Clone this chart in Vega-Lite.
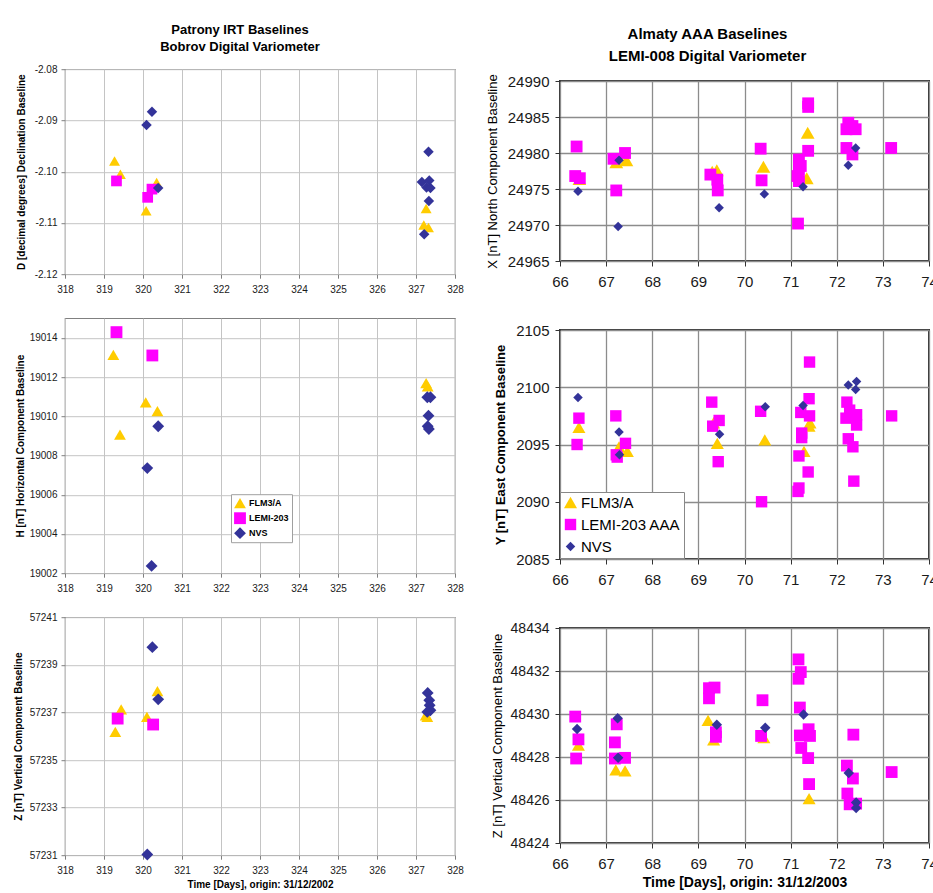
{
  "$schema": "https://vega.github.io/schema/vega-lite/v6.json",
  "background": "white",
  "padding": {"left": 12, "top": 23, "right": 0, "bottom": 0},
  "config": {
    "font": "Liberation Sans",
    "axis": {"domain": false, "labelFlush": false, "labelOverlap": false, "labelFont": "Liberation Sans", "titleFont": "Liberation Sans", "labelColor": "#1a1a1a", "titleColor": "#000000", "grid": true},
    "legend": {"labelFont": "Liberation Sans"},
    "title": {"font": "Liberation Sans", "color": "#000000", "fontWeight": "bold"}
  },
  "datasets": {
    "D": [
      {"day": 319.27, "val": -2.0979, "series": "FLM3/A"},
      {"day": 319.42, "val": -2.1005, "series": "FLM3/A"},
      {"day": 320.08, "val": -2.1076, "series": "FLM3/A"},
      {"day": 320.35, "val": -2.1021, "series": "FLM3/A"},
      {"day": 327.26, "val": -2.1072, "series": "FLM3/A"},
      {"day": 327.2, "val": -2.1104, "series": "FLM3/A"},
      {"day": 327.32, "val": -2.1109, "series": "FLM3/A"},
      {"day": 319.32, "val": -2.1018, "series": "LEMI-203"},
      {"day": 320.12, "val": -2.105, "series": "LEMI-203"},
      {"day": 320.23, "val": -2.1034, "series": "LEMI-203"},
      {"day": 320.09, "val": -2.0909, "series": "NVS"},
      {"day": 320.23, "val": -2.0883, "series": "NVS"},
      {"day": 320.39, "val": -2.1032, "series": "NVS"},
      {"day": 327.32, "val": -2.0961, "series": "NVS"},
      {"day": 327.15, "val": -2.102, "series": "NVS"},
      {"day": 327.34, "val": -2.1017, "series": "NVS"},
      {"day": 327.27, "val": -2.1031, "series": "NVS"},
      {"day": 327.37, "val": -2.1032, "series": "NVS"},
      {"day": 327.33, "val": -2.1057, "series": "NVS"},
      {"day": 327.21, "val": -2.1122, "series": "NVS"}
    ],
    "H": [
      {"day": 319.24, "val": 19013.13, "series": "FLM3/A"},
      {"day": 319.41, "val": 19009.06, "series": "FLM3/A"},
      {"day": 320.07, "val": 19010.71, "series": "FLM3/A"},
      {"day": 320.37, "val": 19010.26, "series": "FLM3/A"},
      {"day": 327.26, "val": 19011.69, "series": "FLM3/A"},
      {"day": 327.3, "val": 19011.53, "series": "FLM3/A"},
      {"day": 319.32, "val": 19014.29, "series": "LEMI-203"},
      {"day": 320.24, "val": 19013.1, "series": "LEMI-203"},
      {"day": 320.11, "val": 19007.36, "series": "NVS"},
      {"day": 320.39, "val": 19009.49, "series": "NVS"},
      {"day": 320.22, "val": 19002.37, "series": "NVS"},
      {"day": 327.29, "val": 19010.97, "series": "NVS"},
      {"day": 327.37, "val": 19010.97, "series": "NVS"},
      {"day": 327.32, "val": 19010.03, "series": "NVS"},
      {"day": 327.3, "val": 19009.49, "series": "NVS"},
      {"day": 327.33, "val": 19009.35, "series": "NVS"}
    ],
    "ZL": [
      {"day": 319.29, "val": 57236.18, "series": "FLM3/A"},
      {"day": 319.44, "val": 57237.13, "series": "FLM3/A"},
      {"day": 320.1, "val": 57236.81, "series": "FLM3/A"},
      {"day": 320.37, "val": 57237.89, "series": "FLM3/A"},
      {"day": 327.29, "val": 57236.81, "series": "FLM3/A"},
      {"day": 327.25, "val": 57236.87, "series": "FLM3/A"},
      {"day": 319.35, "val": 57236.74, "series": "LEMI-203"},
      {"day": 320.26, "val": 57236.49, "series": "LEMI-203"},
      {"day": 320.24, "val": 57239.74, "series": "NVS"},
      {"day": 320.39, "val": 57237.55, "series": "NVS"},
      {"day": 320.11, "val": 57231.03, "series": "NVS"},
      {"day": 327.3, "val": 57237.82, "series": "NVS"},
      {"day": 327.34, "val": 57237.51, "series": "NVS"},
      {"day": 327.35, "val": 57237.3, "series": "NVS"},
      {"day": 327.37, "val": 57237.09, "series": "NVS"},
      {"day": 327.29, "val": 57237.02, "series": "NVS"}
    ],
    "X": [
      {"day": 66.42, "val": 24976.4, "series": "FLM3/A"},
      {"day": 67.22, "val": 24978.7, "series": "FLM3/A"},
      {"day": 67.44, "val": 24979.0, "series": "FLM3/A"},
      {"day": 69.3, "val": 24977.4, "series": "FLM3/A"},
      {"day": 69.4, "val": 24977.6, "series": "FLM3/A"},
      {"day": 70.41, "val": 24978.1, "series": "FLM3/A"},
      {"day": 71.37, "val": 24982.8, "series": "FLM3/A"},
      {"day": 71.35, "val": 24976.5, "series": "FLM3/A"},
      {"day": 66.36, "val": 24980.9, "series": "LEMI-203 AAA"},
      {"day": 66.33, "val": 24976.8, "series": "LEMI-203 AAA"},
      {"day": 66.43, "val": 24976.5, "series": "LEMI-203 AAA"},
      {"day": 67.16, "val": 24979.2, "series": "LEMI-203 AAA"},
      {"day": 67.41, "val": 24980.0, "series": "LEMI-203 AAA"},
      {"day": 67.22, "val": 24974.8, "series": "LEMI-203 AAA"},
      {"day": 69.26, "val": 24977.0, "series": "LEMI-203 AAA"},
      {"day": 69.41, "val": 24976.3, "series": "LEMI-203 AAA"},
      {"day": 69.42, "val": 24974.8, "series": "LEMI-203 AAA"},
      {"day": 70.35, "val": 24980.6, "series": "LEMI-203 AAA"},
      {"day": 70.37, "val": 24976.2, "series": "LEMI-203 AAA"},
      {"day": 71.16, "val": 24970.2, "series": "LEMI-203 AAA"},
      {"day": 71.38, "val": 24986.9, "series": "LEMI-203 AAA"},
      {"day": 71.38, "val": 24986.4, "series": "LEMI-203 AAA"},
      {"day": 71.38, "val": 24980.3, "series": "LEMI-203 AAA"},
      {"day": 71.18, "val": 24979.1, "series": "LEMI-203 AAA"},
      {"day": 71.18, "val": 24977.7, "series": "LEMI-203 AAA"},
      {"day": 71.15, "val": 24976.8, "series": "LEMI-203 AAA"},
      {"day": 71.18, "val": 24976.1, "series": "LEMI-203 AAA"},
      {"day": 71.22, "val": 24978.2, "series": "LEMI-203 AAA"},
      {"day": 72.25, "val": 24984.2, "series": "LEMI-203 AAA"},
      {"day": 72.21, "val": 24983.3, "series": "LEMI-203 AAA"},
      {"day": 72.41, "val": 24983.3, "series": "LEMI-203 AAA"},
      {"day": 72.34, "val": 24983.75, "series": "LEMI-203 AAA"},
      {"day": 72.21, "val": 24980.7, "series": "LEMI-203 AAA"},
      {"day": 72.34, "val": 24979.8, "series": "LEMI-203 AAA"},
      {"day": 73.18, "val": 24980.7, "series": "LEMI-203 AAA"},
      {"day": 66.39, "val": 24974.7, "series": "NVS"},
      {"day": 67.28, "val": 24979.0, "series": "NVS"},
      {"day": 67.26, "val": 24969.8, "series": "NVS"},
      {"day": 69.45, "val": 24972.4, "series": "NVS"},
      {"day": 70.43, "val": 24974.3, "series": "NVS"},
      {"day": 71.27, "val": 24975.3, "series": "NVS"},
      {"day": 72.25, "val": 24978.3, "series": "NVS"},
      {"day": 72.41, "val": 24980.7, "series": "NVS"}
    ],
    "Y": [
      {"day": 66.41, "val": 2096.5, "series": "FLM3/A"},
      {"day": 67.28, "val": 2094.8, "series": "FLM3/A"},
      {"day": 67.46, "val": 2094.4, "series": "FLM3/A"},
      {"day": 69.33, "val": 2096.9, "series": "FLM3/A"},
      {"day": 69.41, "val": 2095.1, "series": "FLM3/A"},
      {"day": 70.44, "val": 2095.4, "series": "FLM3/A"},
      {"day": 71.29, "val": 2094.4, "series": "FLM3/A"},
      {"day": 71.4, "val": 2096.6, "series": "FLM3/A"},
      {"day": 71.42, "val": 2096.9, "series": "FLM3/A"},
      {"day": 66.41, "val": 2097.3, "series": "LEMI-203 AAA"},
      {"day": 66.37, "val": 2095.0, "series": "LEMI-203 AAA"},
      {"day": 67.21, "val": 2097.5, "series": "LEMI-203 AAA"},
      {"day": 67.42, "val": 2095.1, "series": "LEMI-203 AAA"},
      {"day": 67.22, "val": 2094.1, "series": "LEMI-203 AAA"},
      {"day": 67.24, "val": 2093.9, "series": "LEMI-203 AAA"},
      {"day": 69.29, "val": 2098.7, "series": "LEMI-203 AAA"},
      {"day": 69.31, "val": 2096.6, "series": "LEMI-203 AAA"},
      {"day": 69.45, "val": 2097.1, "series": "LEMI-203 AAA"},
      {"day": 69.43, "val": 2093.5, "series": "LEMI-203 AAA"},
      {"day": 70.35, "val": 2097.9, "series": "LEMI-203 AAA"},
      {"day": 70.37, "val": 2090.0, "series": "LEMI-203 AAA"},
      {"day": 71.41, "val": 2102.2, "series": "LEMI-203 AAA"},
      {"day": 71.4, "val": 2099.0, "series": "LEMI-203 AAA"},
      {"day": 71.22, "val": 2097.8, "series": "LEMI-203 AAA"},
      {"day": 71.41, "val": 2097.5, "series": "LEMI-203 AAA"},
      {"day": 71.24, "val": 2096.0, "series": "LEMI-203 AAA"},
      {"day": 71.24, "val": 2095.6, "series": "LEMI-203 AAA"},
      {"day": 71.18, "val": 2094.0, "series": "LEMI-203 AAA"},
      {"day": 71.38, "val": 2092.6, "series": "LEMI-203 AAA"},
      {"day": 71.18, "val": 2091.2, "series": "LEMI-203 AAA"},
      {"day": 71.16, "val": 2090.9, "series": "LEMI-203 AAA"},
      {"day": 72.22, "val": 2098.7, "series": "LEMI-203 AAA"},
      {"day": 72.28, "val": 2098.0, "series": "LEMI-203 AAA"},
      {"day": 72.2, "val": 2097.3, "series": "LEMI-203 AAA"},
      {"day": 72.43, "val": 2097.6, "series": "LEMI-203 AAA"},
      {"day": 72.43, "val": 2096.7, "series": "LEMI-203 AAA"},
      {"day": 72.25, "val": 2095.5, "series": "LEMI-203 AAA"},
      {"day": 72.35, "val": 2094.8, "series": "LEMI-203 AAA"},
      {"day": 72.37, "val": 2091.8, "series": "LEMI-203 AAA"},
      {"day": 73.19, "val": 2097.5, "series": "LEMI-203 AAA"},
      {"day": 66.39, "val": 2099.1, "series": "NVS"},
      {"day": 67.28, "val": 2096.1, "series": "NVS"},
      {"day": 67.29, "val": 2094.1, "series": "NVS"},
      {"day": 69.46, "val": 2095.9, "series": "NVS"},
      {"day": 70.45, "val": 2098.3, "series": "NVS"},
      {"day": 71.27, "val": 2098.4, "series": "NVS"},
      {"day": 72.25, "val": 2100.2, "series": "NVS"},
      {"day": 72.43, "val": 2100.5, "series": "NVS"},
      {"day": 72.41, "val": 2099.8, "series": "NVS"}
    ],
    "ZR": [
      {"day": 66.4, "val": 48428.55, "series": "FLM3/A"},
      {"day": 67.21, "val": 48427.4, "series": "FLM3/A"},
      {"day": 67.41, "val": 48427.35, "series": "FLM3/A"},
      {"day": 69.21, "val": 48429.7, "series": "FLM3/A"},
      {"day": 69.33, "val": 48428.8, "series": "FLM3/A"},
      {"day": 70.42, "val": 48428.9, "series": "FLM3/A"},
      {"day": 71.4, "val": 48426.06, "series": "FLM3/A"},
      {"day": 66.33, "val": 48429.88, "series": "LEMI-203 AAA"},
      {"day": 66.4, "val": 48428.82, "series": "LEMI-203 AAA"},
      {"day": 66.35, "val": 48427.93, "series": "LEMI-203 AAA"},
      {"day": 67.23, "val": 48429.52, "series": "LEMI-203 AAA"},
      {"day": 67.19, "val": 48428.68, "series": "LEMI-203 AAA"},
      {"day": 67.19, "val": 48427.93, "series": "LEMI-203 AAA"},
      {"day": 67.41, "val": 48427.96, "series": "LEMI-203 AAA"},
      {"day": 69.23, "val": 48431.2, "series": "LEMI-203 AAA"},
      {"day": 69.35, "val": 48431.23, "series": "LEMI-203 AAA"},
      {"day": 69.23, "val": 48430.73, "series": "LEMI-203 AAA"},
      {"day": 69.38, "val": 48429.15, "series": "LEMI-203 AAA"},
      {"day": 69.38, "val": 48428.94, "series": "LEMI-203 AAA"},
      {"day": 70.39, "val": 48430.64, "series": "LEMI-203 AAA"},
      {"day": 70.36, "val": 48428.98, "series": "LEMI-203 AAA"},
      {"day": 71.17, "val": 48432.54, "series": "LEMI-203 AAA"},
      {"day": 71.22, "val": 48431.95, "series": "LEMI-203 AAA"},
      {"day": 71.17, "val": 48431.64, "series": "LEMI-203 AAA"},
      {"day": 71.2, "val": 48430.3, "series": "LEMI-203 AAA"},
      {"day": 71.39, "val": 48429.29, "series": "LEMI-203 AAA"},
      {"day": 71.2, "val": 48429.0, "series": "LEMI-203 AAA"},
      {"day": 71.42, "val": 48428.98, "series": "LEMI-203 AAA"},
      {"day": 71.23, "val": 48428.42, "series": "LEMI-203 AAA"},
      {"day": 71.38, "val": 48427.95, "series": "LEMI-203 AAA"},
      {"day": 71.4, "val": 48426.74, "series": "LEMI-203 AAA"},
      {"day": 72.36, "val": 48429.04, "series": "LEMI-203 AAA"},
      {"day": 72.22, "val": 48427.6, "series": "LEMI-203 AAA"},
      {"day": 72.35, "val": 48427.0, "series": "LEMI-203 AAA"},
      {"day": 72.23, "val": 48426.3, "series": "LEMI-203 AAA"},
      {"day": 72.28, "val": 48425.8, "series": "LEMI-203 AAA"},
      {"day": 72.42, "val": 48425.83, "series": "LEMI-203 AAA"},
      {"day": 73.19, "val": 48427.3, "series": "LEMI-203 AAA"},
      {"day": 66.37, "val": 48429.3, "series": "NVS"},
      {"day": 67.25, "val": 48429.8, "series": "NVS"},
      {"day": 67.26, "val": 48427.96, "series": "NVS"},
      {"day": 69.4, "val": 48429.5, "series": "NVS"},
      {"day": 70.45, "val": 48429.36, "series": "NVS"},
      {"day": 71.28, "val": 48429.98, "series": "NVS"},
      {"day": 72.26, "val": 48427.26, "series": "NVS"},
      {"day": 72.42, "val": 48425.88, "series": "NVS"},
      {"day": 72.42, "val": 48425.63, "series": "NVS"}
    ]
  },
  "resolve": {"scale": {"color": "independent", "shape": "independent", "size": "independent"}, "legend": {"color": "independent", "shape": "independent"}},
  "spacing": 21,
  "center": true,
  "hconcat": [
    {
      "vconcat": [
        {
          "title": {"text": ["Patrony IRT Baselines", "Bobrov Digital Variometer"], "fontSize": 13, "lineHeight": 17, "offset": 10, "dx": -20},
          "width": 390, "height": 205,
          "view": {"stroke": "#808080", "strokeWidth": 1.2},
          "data": {"name": "D"},
          "mark": {"type": "point", "filled": true, "opacity": 1},
          "encoding": {
            "x": {"field": "day", "type": "quantitative", "scale": {"domain": [318, 328], "nice": false, "zero": false},
                  "axis": {"values": [318, 319, 320, 321, 322, 323, 324, 325, 326, 327, 328], "title": null, "gridColor": "#c4c4c4", "tickSize": 4, "tickColor": "#808080", "labelFontSize": 10, "labelPadding": 6}},
            "y": {"field": "val", "type": "quantitative", "scale": {"domain": [-2.12, -2.08], "nice": false, "zero": false},
                  "axis": {"values": [-2.12, -2.11, -2.1, -2.09, -2.08], "labelExpr": "replace(format(datum.value, '.2f'), '\u2212', '-')", "title": "D [decimal degrees] Declination Baseline", "titleFontSize": 10, "titleFontWeight": "bold", "titlePadding": 8, "gridColor": "#c4c4c4", "tickSize": 4, "tickColor": "#808080", "labelFontSize": 10, "labelPadding": 4}},
            "color": {"field": "series", "type": "nominal", "scale": {"domain": ["FLM3/A", "LEMI-203", "NVS"], "range": ["#FFCC00", "#FF00FF", "#333399"]}, "legend": null},
            "shape": {"field": "series", "type": "nominal", "scale": {"domain": ["FLM3/A", "LEMI-203", "NVS"], "range": ["triangle-up", "square", "diamond"]}, "legend": null},
            "size": {"field": "series", "type": "ordinal", "scale": {"domain": ["FLM3/A", "LEMI-203", "NVS"], "range": [120, 110, 140]}, "legend": null}
          }
        },
        {
          "width": 390, "height": 255,
          "view": {"stroke": "#808080", "strokeWidth": 1.2},
          "data": {"name": "H"},
          "mark": {"type": "point", "filled": true, "opacity": 1},
          "encoding": {
            "x": {"field": "day", "type": "quantitative", "scale": {"domain": [318, 328], "nice": false, "zero": false},
                  "axis": {"values": [318, 319, 320, 321, 322, 323, 324, 325, 326, 327, 328], "title": null, "gridColor": "#c4c4c4", "tickSize": 4, "tickColor": "#808080", "labelFontSize": 10, "labelPadding": 6}},
            "y": {"field": "val", "type": "quantitative", "scale": {"domain": [19002, 19015], "nice": false, "zero": false},
                  "axis": {"values": [19002, 19004, 19006, 19008, 19010, 19012, 19014], "format": "d", "title": "H [nT] Horizontal Component Baseline", "titleFontSize": 10, "titleFontWeight": "bold", "titlePadding": 4, "gridColor": "#c4c4c4", "tickSize": 4, "tickColor": "#808080", "labelFontSize": 10, "labelPadding": 4}},
            "color": {"field": "series", "type": "nominal", "scale": {"domain": ["FLM3/A", "LEMI-203", "NVS"], "range": ["#FFCC00", "#FF00FF", "#333399"]},
                      "legend": {"title": null, "orient": "none", "legendX": 166, "legendY": 176, "labelFontSize": 9, "labelFontWeight": "bold", "labelColor": "#000", "symbolSize": 45, "symbolStrokeWidth": 0, "rowPadding": 3, "padding": 3, "labelOffset": 3, "strokeColor": "#a0a0a0", "fillColor": "white"}},
            "shape": {"field": "series", "type": "nominal", "scale": {"domain": ["FLM3/A", "LEMI-203", "NVS"], "range": ["triangle-up", "square", "diamond"]},
                      "legend": {"title": null, "orient": "none", "legendX": 166, "legendY": 176, "labelFontSize": 9, "labelFontWeight": "bold", "labelColor": "#000", "symbolSize": 45, "symbolStrokeWidth": 0, "rowPadding": 3, "padding": 3, "labelOffset": 3, "strokeColor": "#a0a0a0", "fillColor": "white"}},
            "size": {"field": "series", "type": "ordinal", "scale": {"domain": ["FLM3/A", "LEMI-203", "NVS"], "range": [140, 140, 140]}, "legend": null}
          }
        },
        {
          "width": 390, "height": 238,
          "view": {"stroke": "#808080", "strokeWidth": 1.2},
          "data": {"name": "ZL"},
          "mark": {"type": "point", "filled": true, "opacity": 1},
          "encoding": {
            "x": {"field": "day", "type": "quantitative", "scale": {"domain": [318, 328], "nice": false, "zero": false},
                  "axis": {"values": [318, 319, 320, 321, 322, 323, 324, 325, 326, 327, 328], "title": ["Time [Days], origin: 31/12/2002", " "], "titleFontSize": 10, "titleFontWeight": "bold", "titlePadding": 4, "gridColor": "#c4c4c4", "tickSize": 4, "tickColor": "#808080", "labelFontSize": 10, "labelPadding": 6}},
            "y": {"field": "val", "type": "quantitative", "scale": {"domain": [57231, 57241], "nice": false, "zero": false},
                  "axis": {"values": [57231, 57233, 57235, 57237, 57239, 57241], "format": "d", "title": "Z [nT] Vertical Component Baseline", "titleFontSize": 10, "titleFontWeight": "bold", "titlePadding": 6, "gridColor": "#c4c4c4", "tickSize": 4, "tickColor": "#808080", "labelFontSize": 10, "labelPadding": 4}},
            "color": {"field": "series", "type": "nominal", "scale": {"domain": ["FLM3/A", "LEMI-203", "NVS"], "range": ["#FFCC00", "#FF00FF", "#333399"]}, "legend": null},
            "shape": {"field": "series", "type": "nominal", "scale": {"domain": ["FLM3/A", "LEMI-203", "NVS"], "range": ["triangle-up", "square", "diamond"]}, "legend": null},
            "size": {"field": "series", "type": "ordinal", "scale": {"domain": ["FLM3/A", "LEMI-203", "NVS"], "range": [140, 140, 140]}, "legend": null}
          }
        }
      ],
      "spacing": 44,
      "bounds": "flush",
      "resolve": {"scale": {"color": "independent", "shape": "independent", "size": "independent"}, "legend": {"color": "independent", "shape": "independent"}}
    },
    {
      "vconcat": [
        {
          "title": {"text": ["Almaty AAA Baselines", "LEMI-008 Digital Variometer"], "fontSize": 15, "lineHeight": 22, "offset": 10, "dx": -37},
          "width": 369, "height": 180,
          "view": {"stroke": "#333333", "strokeWidth": 2},
          "data": {"name": "X"},
          "mark": {"type": "point", "filled": true, "opacity": 1},
          "encoding": {
            "x": {"field": "day", "type": "quantitative", "scale": {"domain": [66, 74], "nice": false, "zero": false},
                  "axis": {"values": [66, 67, 68, 69, 70, 71, 72, 73, 74], "title": null, "gridColor": "#8c8c8c", "gridWidth": 1.3, "tickSize": 5, "tickColor": "#333", "labelFontSize": 15, "labelPadding": 8}},
            "y": {"field": "val", "type": "quantitative", "scale": {"domain": [24965, 24990], "nice": false, "zero": false},
                  "axis": {"values": [24965, 24970, 24975, 24980, 24985, 24990], "format": "d", "title": "X [nT] North Component Baseline", "titleFontSize": 13, "titleFontWeight": "normal", "titlePadding": 8, "gridColor": "#8c8c8c", "gridWidth": 1.3, "tickSize": 5, "tickColor": "#333", "labelFontSize": 15, "labelPadding": 6}},
            "color": {"field": "series", "type": "nominal", "scale": {"domain": ["FLM3/A", "LEMI-203 AAA", "NVS"], "range": ["#FFCC00", "#FF00FF", "#333399"]}, "legend": null},
            "shape": {"field": "series", "type": "nominal", "scale": {"domain": ["FLM3/A", "LEMI-203 AAA", "NVS"], "range": ["triangle-up", "square", "diamond"]}, "legend": null},
            "size": {"field": "series", "type": "ordinal", "scale": {"domain": ["FLM3/A", "LEMI-203 AAA", "NVS"], "range": [190, 90, 160]}, "legend": null}
          }
        },
        {
          "width": 369, "height": 229,
          "view": {"stroke": "#333333", "strokeWidth": 2},
          "data": {"name": "Y"},
          "mark": {"type": "point", "filled": true, "opacity": 1},
          "encoding": {
            "x": {"field": "day", "type": "quantitative", "scale": {"domain": [66, 74], "nice": false, "zero": false},
                  "axis": {"values": [66, 67, 68, 69, 70, 71, 72, 73, 74], "title": null, "gridColor": "#8c8c8c", "gridWidth": 1.3, "tickSize": 5, "tickColor": "#333", "labelFontSize": 15, "labelPadding": 8}},
            "y": {"field": "val", "type": "quantitative", "scale": {"domain": [2085, 2105], "nice": false, "zero": false},
                  "axis": {"values": [2085, 2090, 2095, 2100, 2105], "format": "d", "title": "Y [nT] East Component Baseline", "titleFontSize": 13, "titleFontWeight": "bold", "titlePadding": 8, "gridColor": "#8c8c8c", "gridWidth": 1.3, "tickSize": 5, "tickColor": "#333", "labelFontSize": 15, "labelPadding": 6}},
            "color": {"field": "series", "type": "nominal", "scale": {"domain": ["FLM3/A", "LEMI-203 AAA", "NVS"], "range": ["#FFCC00", "#FF00FF", "#333399"]},
                      "legend": {"title": null, "orient": "none", "legendX": 0, "legendY": 162, "labelFontSize": 15, "labelColor": "#000", "symbolSize": 110, "symbolStrokeWidth": 0, "rowPadding": 6, "padding": 3, "labelOffset": 3, "strokeColor": "#888888", "fillColor": "white"}},
            "shape": {"field": "series", "type": "nominal", "scale": {"domain": ["FLM3/A", "LEMI-203 AAA", "NVS"], "range": ["triangle-up", "square", "diamond"]},
                      "legend": {"title": null, "orient": "none", "legendX": 0, "legendY": 162, "labelFontSize": 15, "labelColor": "#000", "symbolSize": 110, "symbolStrokeWidth": 0, "rowPadding": 6, "padding": 3, "labelOffset": 3, "strokeColor": "#888888", "fillColor": "white"}},
            "size": {"field": "series", "type": "ordinal", "scale": {"domain": ["FLM3/A", "LEMI-203 AAA", "NVS"], "range": [170, 90, 160]}, "legend": null}
          }
        },
        {
          "width": 369, "height": 215,
          "view": {"stroke": "#333333", "strokeWidth": 2},
          "data": {"name": "ZR"},
          "mark": {"type": "point", "filled": true, "opacity": 1},
          "encoding": {
            "x": {"field": "day", "type": "quantitative", "scale": {"domain": [66, 74], "nice": false, "zero": false},
                  "axis": {"values": [66, 67, 68, 69, 70, 71, 72, 73, 74], "title": "Time [Days], origin: 31/12/2003", "titleFontSize": 14, "titleFontWeight": "bold", "titlePadding": 4, "gridColor": "#8c8c8c", "gridWidth": 1.3, "tickSize": 5, "tickColor": "#333", "labelFontSize": 15, "labelPadding": 8}},
            "y": {"field": "val", "type": "quantitative", "scale": {"domain": [48424, 48434], "nice": false, "zero": false},
                  "axis": {"values": [48424, 48426, 48428, 48430, 48432, 48434], "format": "d", "title": "Z [nT] Vertical Component Baseline", "titleFontSize": 13, "titleFontWeight": "normal", "titlePadding": 6, "gridColor": "#8c8c8c", "gridWidth": 1.3, "tickSize": 5, "tickColor": "#333", "labelFontSize": 14, "labelPadding": 6}},
            "color": {"field": "series", "type": "nominal", "scale": {"domain": ["FLM3/A", "LEMI-203 AAA", "NVS"], "range": ["#FFCC00", "#FF00FF", "#333399"]}, "legend": null},
            "shape": {"field": "series", "type": "nominal", "scale": {"domain": ["FLM3/A", "LEMI-203 AAA", "NVS"], "range": ["triangle-up", "square", "diamond"]}, "legend": null},
            "size": {"field": "series", "type": "ordinal", "scale": {"domain": ["FLM3/A", "LEMI-203 AAA", "NVS"], "range": [170, 110, 160]}, "legend": null}
          }
        }
      ],
      "spacing": 69,
      "bounds": "flush",
      "resolve": {"scale": {"color": "independent", "shape": "independent", "size": "independent"}, "legend": {"color": "independent", "shape": "independent"}}
    }
  ]
}
